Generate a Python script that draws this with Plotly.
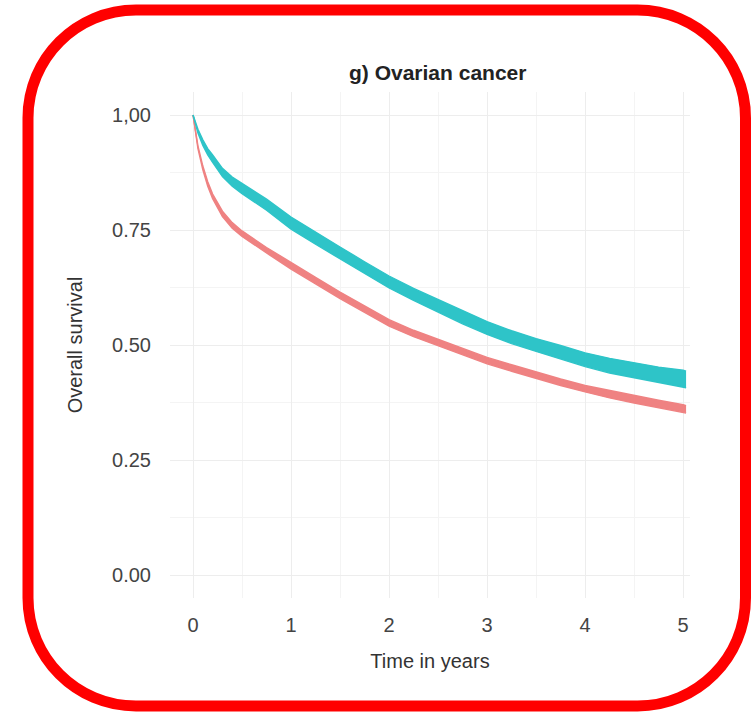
import plotly.graph_objects as go

# Kaplan-Meier style survival estimates with confidence bands (years since diagnosis)
time_years = [0, 0.05, 0.1, 0.15, 0.2, 0.3, 0.4, 0.5, 0.75, 1.0, 1.25, 1.5, 1.75, 2.0,
              2.25, 2.5, 2.75, 3.0, 3.25, 3.5, 3.75, 4.0, 4.25, 4.5, 4.75, 5.0, 5.03]

teal_upper = [1.0, 0.969, 0.946, 0.927, 0.913, 0.884, 0.865, 0.851, 0.817, 0.778, 0.745, 0.713,
              0.681, 0.650, 0.623, 0.599, 0.574, 0.551, 0.531, 0.514, 0.499, 0.483, 0.471, 0.461,
              0.452, 0.445, 0.443]
teal_lower = [1.0, 0.961, 0.934, 0.913, 0.897, 0.866, 0.845, 0.829, 0.793, 0.752, 0.719, 0.687,
              0.655, 0.624, 0.597, 0.571, 0.546, 0.523, 0.503, 0.486, 0.469, 0.453, 0.439, 0.429,
              0.418, 0.409, 0.407]

red_upper = [1.0, 0.933, 0.889, 0.855, 0.828, 0.791, 0.766, 0.748, 0.712, 0.679, 0.647, 0.615,
             0.585, 0.555, 0.532, 0.512, 0.492, 0.473, 0.457, 0.441, 0.426, 0.412, 0.401, 0.390,
             0.380, 0.370, 0.368]
red_lower = [1.0, 0.927, 0.881, 0.845, 0.818, 0.779, 0.754, 0.736, 0.700, 0.665, 0.633, 0.601,
             0.571, 0.541, 0.518, 0.498, 0.478, 0.459, 0.443, 0.427, 0.412, 0.398, 0.385, 0.374,
             0.364, 0.354, 0.352]

x_ticks = [0, 1, 2, 3, 4, 5]
x_tick_labels = ["0", "1", "2", "3", "4", "5"]
y_ticks = [0, 0.25, 0.5, 0.75, 1.0]
y_tick_labels = ["0.00", "0.25", "0.50", "0.75", "1,00"]

TEAL = "#2EC4C8"
RED = "#EF8282"

W, H = 751, 712
ML, MR, MT, MB = 170, 61, 92, 114
PW, PH = W - ML - MR, H - MT - MB

fig = go.Figure()


def add_band(lower, upper, color):
    fig.add_trace(go.Scatter(x=time_years, y=lower, mode="lines",
                             line=dict(color=color, width=1.4), hoverinfo="skip",
                             showlegend=False))
    fig.add_trace(go.Scatter(x=time_years, y=upper, mode="lines", fill="tonexty",
                             fillcolor=color, line=dict(color=color, width=1.4),
                             hoverinfo="skip", showlegend=False))


add_band(red_lower, red_upper, RED)
add_band(teal_lower, teal_upper, TEAL)


def px_to_paper(px, py):
    return (px - ML) / PW, (H - MB - py) / PH


def rounded_rect_path(x0, y0, x1, y1, r):
    k = 0.5523 * r
    pts = []
    cmds = [
        ("M", [(x0 + r, y0)]),
        ("L", [(x1 - r, y0)]),
        ("C", [(x1 - r + k, y0), (x1, y0 + r - k), (x1, y0 + r)]),
        ("L", [(x1, y1 - r)]),
        ("C", [(x1, y1 - r + k), (x1 - r + k, y1), (x1 - r, y1)]),
        ("L", [(x0 + r, y1)]),
        ("C", [(x0 + r - k, y1), (x0, y1 - r + k), (x0, y1 - r)]),
        ("L", [(x0, y0 + r)]),
        ("C", [(x0, y0 + r - k), (x0 + r - k, y0), (x0 + r, y0)]),
    ]
    for cmd, points in cmds:
        coords = " ".join("%.5f,%.5f" % px_to_paper(px, py) for px, py in points)
        pts.append(cmd + " " + coords)
    return " ".join(pts) + " Z"


fig.add_shape(type="path", xref="paper", yref="paper",
              path=rounded_rect_path(28, 10, 745.5, 706, 108),
              line=dict(color="#FF0000", width=11), layer="above")

axis_font = dict(family="Liberation Sans, Arial, sans-serif", size=20, color="#444444")
title_font = dict(family="Liberation Sans, Arial, sans-serif", size=20, color="#333333")

fig.update_layout(
    width=W, height=H, autosize=False,
    margin=dict(l=ML, r=MR, t=MT, b=MB, pad=0),
    paper_bgcolor="white", plot_bgcolor="white",
    showlegend=False,
    xaxis=dict(
        range=[-0.235, 5.07], tickvals=x_ticks, ticktext=x_tick_labels,
        showgrid=True, gridcolor="#EDEDED", gridwidth=1.2,
        zeroline=False, showline=False, ticks="",
        tickfont=axis_font, ticklabelstandoff=13,
        minor=dict(tickvals=[0.5, 1.5, 2.5, 3.5, 4.5], showgrid=True,
                   gridcolor="#F4F4F4", gridwidth=0.8),
        title=dict(text="Time in years", font=title_font, standoff=18),
    ),
    yaxis=dict(
        range=[-0.05, 1.05], tickvals=y_ticks, ticktext=y_tick_labels,
        showgrid=True, gridcolor="#EDEDED", gridwidth=1.2,
        zeroline=False, showline=False, ticks="",
        tickfont=axis_font, ticklabelstandoff=18,
        minor=dict(tickvals=[0.125, 0.375, 0.625, 0.875], showgrid=True,
                   gridcolor="#F4F4F4", gridwidth=0.8),
        title=dict(text="Overall survival", font=title_font, standoff=24),
    ),
)

tx, ty = px_to_paper(437, 72)
fig.add_annotation(text="<b>g) Ovarian cancer</b>", xref="paper", yref="paper",
                   x=tx, y=ty, xanchor="center", yanchor="middle", showarrow=False,
                   font=dict(family="Liberation Sans, Arial, sans-serif", size=21,
                             color="#222222"))

fig.write_html("out.html")
